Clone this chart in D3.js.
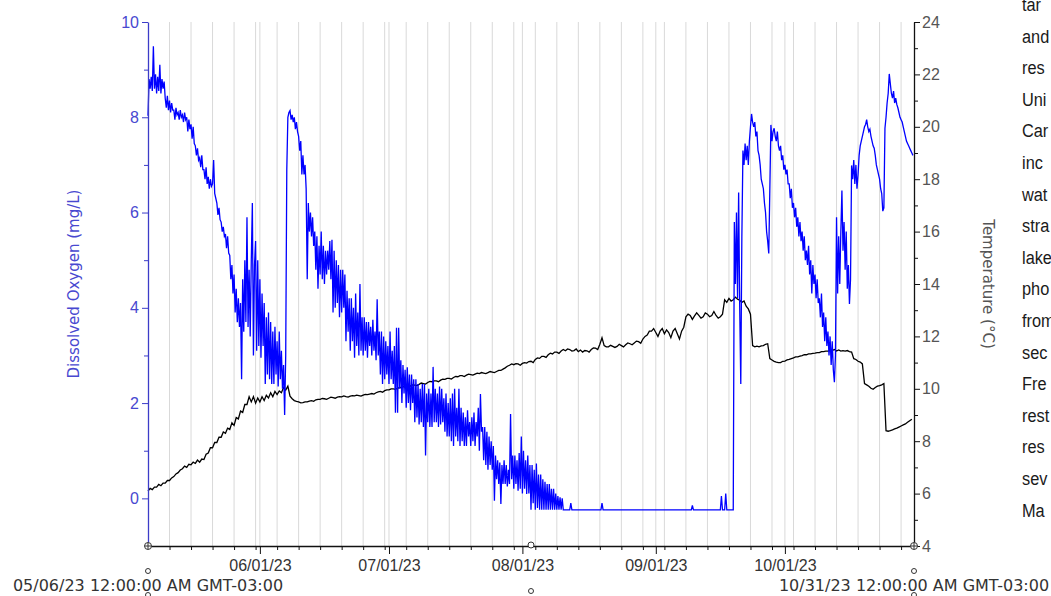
<!DOCTYPE html>
<html>
<head>
<meta charset="utf-8">
<script src="https://cdn.jsdelivr.net/npm/d3@7"></script>
<style>
  body { margin: 0; background: #fff; }
  svg { display: block; font-family: "DejaVu Sans", Verdana, sans-serif; }
  .grid line { stroke: #d9d9d9; stroke-width: 1; }
  .axis--do path, .axis--do line { stroke: #3c3cc8; }
  .axis--do text { fill: #4848d0; }
  .axis--t path, .axis--t line { stroke: #111; }
  .axis--t text { fill: #555; }
  .axis--x path, .axis--x line { stroke: #111; }
  .axis--x text { fill: #333; }
  .note { font-family: "Liberation Sans Narrow", "Liberation Sans", sans-serif; fill: #1a1a1a; }
</style>
</head>
<body>
<svg id="chart" width="1051" height="596"></svg>
<script>
// logger window
var startDate = "2023-05-06", endDate = "2023-10-31";
var cursorDate = "2023-08-03";
var gridStepDays = 5;
var monthTicks = ["2023-06-01", "2023-07-01", "2023-08-01", "2023-09-01", "2023-10-01"];
var monthLabels = ["06/01/23", "07/01/23", "08/01/23", "09/01/23", "10/01/23"];
var endLabels = ["05/06/23 12:00:00 AM GMT-03:00", "10/31/23 12:00:00 AM GMT-03:00"];
var doMajor = [0, 2, 4, 6, 8, 10], doMinor = [-1, 1, 3, 5, 7, 9];
var tMajor = [4, 6, 8, 10, 12, 14, 16, 18, 20, 22, 24], tMinor = [5, 7, 9, 11, 13, 15, 17, 19, 21, 23];

// dissolved oxygen (mg/L), one row per day from 05/06, readings spread over the day
var doReadings = [
  [8.03, 8.8, 8.6, 8.85], [8.55, 9.49, 8.6, 8.9], [8.5, 8.85, 8.55, 9.1], [8.5, 8.8, 8.6, 8.75],
  [8.4, 8.2, 8.45, 8.15], [8.35, 8.1, 8.3, 8.15], [8.15, 7.95, 8.2, 8.05], [8.1, 7.95, 8.15, 8.0],
  [8.05, 7.9, 8.1, 7.95], [8.0, 7.7, 7.95, 7.75], [7.85, 7.55, 7.8, 7.45], [7.4, 7.2, 7.35, 7.1],
  [7.15, 6.95, 7.2, 6.9], [6.9, 6.7, 6.95, 6.6], [6.75, 6.5, 6.7, 6.55], [6.6, 7.1, 6.4, 6.3],
  [6.2, 5.95, 6.1, 5.85], [5.8, 5.6, 5.7, 5.5], [5.55, 5.25, 5.5, 5.15], [5.1, 4.6, 4.9, 4.3],
  [4.7, 3.9, 4.4, 3.7], [4.2, 3.6, 4.1, 2.5], [4.6, 3.5, 5.0, 3.7], [5.9, 3.6, 4.8, 3.4],
  [5.0, 6.2, 3.0, 4.9], [5.4, 3.1, 5.0, 3.2], [4.6, 2.95, 4.3, 3.2], [4.1, 2.4, 3.8, 2.6],
  [3.9, 2.5, 3.7, 2.4], [3.5, 2.4, 3.6, 2.6], [3.3, 2.35, 3.5, 2.5], [3.1, 2.3, 2.8, 1.75],
  [3.0, 6.9, 8.0, 8.1], [8.14, 7.95, 8.05, 7.9], [8.0, 7.75, 7.9, 7.7], [7.6, 7.3, 7.5, 6.8],
  [7.2, 6.8, 7.0, 6.5], [4.6, 6.2, 5.6, 6.0], [5.5, 5.9, 5.3, 5.6], [4.8, 5.5, 4.4, 5.3],
  [4.7, 5.6, 4.6, 5.3], [4.5, 5.2, 4.7, 5.2], [4.8, 5.4, 4.6, 5.43], [3.9, 5.2, 4.0, 5.0],
  [4.1, 4.9, 3.8, 4.8], [3.9, 4.8, 4.0, 4.7], [3.3, 4.36, 3.5, 4.2], [3.1, 4.2, 3.3, 4.0],
  [2.95, 4.3, 3.2, 3.9], [3.0, 4.5, 3.1, 3.8], [3.0, 3.8, 3.1, 3.7], [2.95, 3.7, 3.2, 3.6],
  [3.0, 3.75, 3.1, 3.5], [2.9, 4.18, 3.0, 3.5], [2.6, 3.5, 2.4, 3.4], [2.5, 3.3, 2.6, 3.2],
  [2.4, 3.5, 2.5, 3.1], [2.4, 3.2, 1.8, 3.58], [1.8, 3.58, 2.3, 2.9], [2.0, 2.8, 2.2, 2.7],
  [1.9, 2.75, 2.0, 2.6], [1.85, 2.6, 2.0, 2.5], [1.6, 2.5, 1.7, 2.4], [1.55, 2.3, 1.6, 2.4],
  [1.5, 2.4, 0.9, 2.2], [1.6, 2.3, 1.5, 2.2], [1.5, 2.76, 1.6, 2.3], [1.6, 2.2, 1.5, 2.35],
  [1.55, 2.3, 1.6, 2.1], [1.4, 2.2, 1.3, 2.0], [1.3, 2.1, 1.2, 2.2], [1.1, 2.3, 1.3, 1.9],
  [1.2, 2.3, 1.1, 1.9], [1.2, 1.8, 1.1, 1.7], [1.1, 1.85, 1.3, 1.6], [1.1, 1.7, 1.2, 1.8],
  [1.1, 1.6, 1.3, 1.9], [1.0, 2.19, 1.4, 1.5], [0.8, 1.5, 0.7, 1.4], [0.6, 1.3, 0.7, 1.2],
  [0.6, 1.1, -0.05, 0.9], [0.4, 0.8, 0.3, 0.75], [-0.12, 0.7, 0.3, 0.8], [0.3, 0.7, 0.25, 0.6],
  [0.3, 1.77, 0.4, 0.9], [0.2, 0.9, 0.3, 0.8], [0.16, 0.95, 0.2, 1.3], [0.1, 1.0, 0.2, 0.8],
  [0.09, 0.9, 0.1, 0.7], [-0.24, 0.7, -0.1, 0.6], [-0.24, 0.73, -0.2, 0.5], [-0.24, 0.5, -0.24, 0.4],
  [-0.24, 0.35, -0.24, 0.3], [-0.24, 0.3, -0.24, 0.2], [-0.24, 0.2, -0.24, 0.1], [-0.24, 0.05, -0.24, 0.02],
  [-0.24, 0.0, -0.24, -0.24], [-0.24], [-0.24, -0.1, -0.24, -0.24], [-0.24],
  [-0.24], [-0.24], [-0.24], [-0.24], [-0.24], [-0.24, -0.24, -0.1, -0.24],
  [-0.24], [-0.24], [-0.24], [-0.24], [-0.24], [-0.24], [-0.24], [-0.24], [-0.24], [-0.24],
  [-0.24], [-0.24], [-0.24], [-0.24], [-0.24], [-0.24], [-0.24], [-0.24], [-0.24], [-0.24],
  [-0.24, -0.24, -0.15, -0.24], [-0.24], [-0.24], [-0.24], [-0.24], [-0.24], [-0.24],
  [-0.24, 0.05, -0.24, -0.24], [-0.24, 0.1, -0.24, -0.24], [-0.24],
  [-0.24, 5.8, 4.5, 6.0], [4.2, 6.42, 4.0, 2.4], [5.5, 7.3, 7.0, 7.45], [7.1, 7.4, 7.0, 7.5],
  [7.8, 8.07, 7.9, 7.8], [7.9, 7.6, 7.7, 7.3], [7.2, 7.0, 6.7, 6.6], [6.5, 6.2, 6.0, 5.6],
  [5.4, 5.14, 6.5, 7.84], [7.5, 7.7, 7.77, 7.6], [7.5, 7.7, 7.4, 7.3], [7.4, 7.1, 7.2, 6.9],
  [7.0, 6.8, 6.9, 6.6], [6.6, 6.3, 6.5, 6.1], [6.2, 5.9, 6.1, 5.7], [5.9, 5.5, 5.8, 5.4],
  [5.6, 5.2, 5.5, 5.0], [5.2, 4.9, 5.3, 4.7], [5.0, 4.3, 4.9, 4.5], [4.7, 4.2, 4.6, 4.1],
  [4.2, 3.8, 4.3, 3.6], [3.9, 3.3, 3.8, 3.2], [3.5, 3.0, 3.4, 2.8], [3.3, 2.7, 2.44, 3.0],
  [5.9, 4.3, 5.5, 4.5], [5.6, 6.46, 5.2, 5.8], [4.8, 5.6, 4.4, 4.9], [4.08, 4.6, 6.99, 6.7],
  [7.1, 6.6, 7.0, 6.5], [6.8, 7.2, 7.4, 7.5], [7.6, 7.7, 7.8, 7.85], [7.95, 7.8, 7.7, 7.75],
  [7.6, 7.5, 7.4, 7.35], [7.2, 7.0, 6.9, 6.8], [6.7, 6.5, 6.4, 6.03], [6.1, 7.77, 8.0, 8.3],
  [8.5, 8.91, 8.7, 8.5], [8.4, 8.55, 8.3, 8.4], [8.27, 8.2, 8.1, 8.0], [7.95, 7.9, 7.8, 7.7],
  [7.6, 7.5, 7.45, 7.4], [7.35, 7.3, 7.25, 7.2]
];

// water temperature (°C), one row per day from 05/06
var tempReadings = [
  [6.1, 6.2], [6.15, 6.25], [6.25, 6.35], [6.3, 6.4], [6.4, 6.5], [6.5, 6.6], [6.65, 6.75], [6.8, 6.9],
  [6.95, 7.05], [7.0, 7.12], [7.1, 7.2], [7.15, 7.28], [7.2, 7.32], [7.3, 7.5], [7.55, 7.75], [7.75, 7.95],
  [7.95, 8.15], [8.15, 8.35], [8.3, 8.5], [8.45, 8.7], [8.6, 8.9], [8.85, 9.15], [9.1, 9.4], [9.4, 9.7],
  [9.5, 9.7], [9.45, 9.65], [9.5, 9.7], [9.55, 9.75], [9.65, 9.85], [9.7, 9.9], [9.78, 9.92], [9.85, 10.05],
  [9.95, 10.1], [9.72, 9.62], [9.55, 9.52], [9.5, 9.46], [9.47, 9.5], [9.5, 9.53], [9.55, 9.52], [9.58, 9.6],
  [9.6, 9.63], [9.62, 9.6], [9.64, 9.68], [9.66, 9.64], [9.68, 9.7], [9.69, 9.73], [9.7, 9.68], [9.72, 9.74],
  [9.73, 9.76], [9.74, 9.72], [9.76, 9.79], [9.78, 9.8], [9.82, 9.8], [9.85, 9.88], [9.9, 9.87], [9.93, 9.96],
  [9.96, 10.0], [10.0, 9.98], [10.02, 10.05], [10.05, 10.09], [10.08, 10.05], [10.11, 10.15], [10.14, 10.12], [10.17, 10.22],
  [10.2, 10.18], [10.24, 10.28], [10.27, 10.3], [10.3, 10.27], [10.33, 10.37], [10.36, 10.4], [10.4, 10.37], [10.43, 10.47],
  [10.46, 10.5], [10.5, 10.47], [10.52, 10.56], [10.54, 10.52], [10.56, 10.6], [10.58, 10.62], [10.6, 10.58], [10.62, 10.66],
  [10.64, 10.62], [10.66, 10.7], [10.7, 10.75], [10.8, 10.86], [10.9, 10.95], [10.92, 10.96], [10.95, 10.9], [10.97, 11.0],
  [10.98, 11.04], [11.05, 11.0], [11.12, 11.18], [11.16, 11.24], [11.24, 11.2], [11.3, 11.36], [11.33, 11.4], [11.4, 11.35],
  [11.44, 11.5], [11.45, 11.52], [11.5, 11.44], [11.46, 11.52], [11.42, 11.48], [11.4, 11.46], [11.45, 11.4], [11.5, 11.56],
  [11.55, 11.5], [11.7, 11.95], [11.65, 11.6], [11.6, 11.66], [11.62, 11.58], [11.62, 11.7], [11.65, 11.6], [11.68, 11.75],
  [11.72, 11.68], [11.75, 11.82], [11.8, 11.74], [11.9, 12.0], [12.05, 12.2], [12.2, 12.3], [12.15, 12.0], [12.2, 12.3],
  [12.1, 12.25], [12.15, 11.95], [12.2, 12.3], [12.1, 11.9], [12.2, 12.35], [12.75, 12.85], [12.8, 12.65], [12.78, 12.9],
  [12.8, 12.7], [12.75, 12.9], [12.85, 12.75], [12.8, 12.95], [12.8, 12.7], [12.75, 12.85], [13.4, 13.3], [13.45, 13.35],
  [13.4, 13.5], [13.42, 13.38], [13.3, 13.35], [13.15, 13.05], [12.85, 11.65], [11.6, 11.63], [11.6, 11.64], [11.65, 11.7],
  [11.72, 11.15], [11.1, 11.05], [11.02, 11.0], [11.0, 11.05], [11.06, 11.1], [11.12, 11.15], [11.18, 11.22], [11.22, 11.25],
  [11.27, 11.3], [11.3, 11.33], [11.33, 11.35], [11.36, 11.38], [11.38, 11.42], [11.42, 11.44], [11.44, 11.46], [11.46, 11.5],
  [11.44, 11.48], [11.44, 11.46], [11.44, 11.46], [11.42, 11.4], [11.15, 11.12], [11.05, 11.02], [10.95, 10.2], [10.15, 10.1],
  [10.02, 9.98], [10.05, 10.1], [10.12, 10.15], [10.2, 8.4], [8.38, 8.4], [8.43, 8.47], [8.5, 8.54], [8.58, 8.62],
  [8.66, 8.72], [8.78, 8.84]
];

// text column cut off at the right edge of the screenshot
var noteLines = ["tar", "and", "res", "Uni", "Car", "inc", "wat", "stra", "lake", "pho", "from", "sec", "Fre", "rest", "res", "sev", "Ma"];

var svg = d3.select("svg#chart"),
    margin = {top: 22, right: 137, bottom: 50, left: 148},
    width = +svg.attr("width") - margin.left - margin.right,
    height = +svg.attr("height") - margin.top - margin.bottom;

var t0 = new Date(startDate), t1 = new Date(endDate);
var dayMs = 864e5;

var x = d3.scaleUtc().domain([t0, t1]).range([0, width]);
var yDO = d3.scaleLinear().domain([-1, 10]).range([height, 0]);
var yT = d3.scaleLinear().domain([4, 24]).range([height, 0]);

function flatten(rows) {
  var out = [];
  rows.forEach(function(r, i) {
    r.forEach(function(v, j) {
      out.push({date: new Date(+t0 + (i + j / r.length) * dayMs), value: v});
    });
  });
  return out;
}

var doData = flatten(doReadings),
    tempData = flatten(tempReadings);

var gridDates = d3.range(0, 178, gridStepDays).slice(1).map(function(d) { return new Date(+t0 + d * dayMs); });
var monthDates = monthTicks.map(function(d) { return new Date(d); });

var g = svg.append("g")
  .attr("transform", "translate(" + margin.left + "," + margin.top + ")");

// vertical grid
g.append("g")
  .attr("class", "grid")
  .selectAll("line")
  .data(gridDates.concat(monthDates))
  .enter().append("line")
    .attr("x1", function(d) { return x(d); })
    .attr("x2", function(d) { return x(d); })
    .attr("y1", 0)
    .attr("y2", height);

var lineDO = d3.line()
  .x(function(d) { return x(d.date); })
  .y(function(d) { return yDO(d.value); });

var lineT = d3.line()
  .x(function(d) { return x(d.date); })
  .y(function(d) { return yT(d.value); });

g.append("path")
  .datum(tempData)
  .attr("fill", "none")
  .attr("stroke", "#000")
  .attr("stroke-width", 1.3)
  .attr("d", lineT);

g.append("path")
  .datum(doData)
  .attr("fill", "none")
  .attr("stroke", "#0000ff")
  .attr("stroke-width", 1.3)
  .attr("d", lineDO);

// x axis
g.append("g")
  .attr("class", "axis axis--x")
  .attr("transform", "translate(0," + height + ")")
  .call(d3.axisBottom(x).tickValues(gridDates).tickSize(4).tickSizeOuter(0).tickFormat(""))
  .call(function(a) { a.select(".domain").attr("stroke-width", 1.3); });

g.append("g")
  .attr("class", "axis axis--x")
  .attr("transform", "translate(0," + height + ")")
  .call(d3.axisBottom(x).tickValues(monthDates).tickSize(8).tickPadding(6)
    .tickFormat(function(d, i) { return monthLabels[i]; }))
  .call(function(a) { a.select(".domain").remove(); })
  .selectAll("text")
    .style("font-size", "16px");

// left axis, dissolved oxygen
g.append("g")
  .attr("class", "axis axis--do")
  .call(d3.axisLeft(yDO).tickValues(doMinor.slice(1)).tickSize(4).tickSizeOuter(0).tickFormat(""))
  .call(function(a) { a.select(".domain").attr("stroke-width", 1.3); });

g.append("g")
  .attr("class", "axis axis--do")
  .call(d3.axisLeft(yDO).tickValues(doMajor).tickSize(6).tickPadding(3))
  .call(function(a) { a.select(".domain").remove(); })
  .selectAll("text")
    .style("font-size", "16px");

// right axis, temperature
g.append("g")
  .attr("class", "axis axis--t")
  .attr("transform", "translate(" + width + ",0)")
  .call(d3.axisRight(yT).tickValues(tMinor).tickSize(4).tickSizeOuter(0).tickFormat(""))
  .call(function(a) { a.select(".domain").attr("stroke-width", 1.3); });

g.append("g")
  .attr("class", "axis axis--t")
  .attr("transform", "translate(" + width + ",0)")
  .call(d3.axisRight(yT).tickValues(tMajor).tickSize(6).tickPadding(2))
  .call(function(a) { a.select(".domain").remove(); })
  .selectAll("text")
    .style("font-size", "16px");

// axis titles
g.append("text")
  .attr("transform", "translate(" + (-74) + "," + (height / 2) + ") rotate(-90)")
  .attr("text-anchor", "middle")
  .attr("dy", "0.35em")
  .style("font-size", "15px")
  .attr("fill", "#4848d0")
  .text("Dissolved Oxygen (mg/L)");

g.append("text")
  .attr("transform", "translate(" + (width + 74) + "," + (height / 2) + ") rotate(90)")
  .attr("text-anchor", "middle")
  .attr("dy", "0.35em")
  .style("font-size", "15px")
  .attr("fill", "#555")
  .text("Temperature (\u00B0C)");

// start / end stamps and slider handles
var ends = [t0, t1];
g.selectAll(".endlabel")
  .data(ends)
  .enter().append("text")
    .attr("class", "endlabel")
    .attr("x", function(d) { return x(d); })
    .attr("y", height + 45)
    .attr("text-anchor", "middle")
    .style("font-size", "16px")
    .attr("fill", "#333")
    .text(function(d, i) { return endLabels[i]; });

var handles = g.append("g").attr("fill", "#fff").attr("stroke", "#333").attr("stroke-width", 1);
ends.forEach(function(d) {
  handles.append("circle").attr("cx", x(d)).attr("cy", height).attr("r", 3.5);
  handles.append("path").attr("d", "M" + (x(d) - 3) + "," + height + "h6M" + x(d) + "," + (height - 3) + "v6");
  handles.append("circle").attr("cx", x(d)).attr("cy", height + 25).attr("r", 2.5);
  handles.append("circle").attr("cx", x(d)).attr("cy", height + 49).attr("r", 2.5);
});
var cur = new Date(cursorDate);
handles.append("circle").attr("cx", x(cur)).attr("cy", height - 1).attr("r", 3);
handles.append("circle").attr("cx", x(cur)).attr("cy", height + 45).attr("r", 2.5);

// clipped paragraph on the right (narrow face, squeezed horizontally)
svg.append("g")
  .attr("class", "note")
  .attr("transform", "translate(1022,0) scale(0.86,1)")
  .selectAll("text")
  .data(noteLines)
  .enter().append("text")
    .attr("x", 0)
    .attr("y", function(d, i) { return 11 + i * 31.6; })
    .style("font-size", "19px")
    .text(function(d) { return d; });
</script>
</body>
</html>
